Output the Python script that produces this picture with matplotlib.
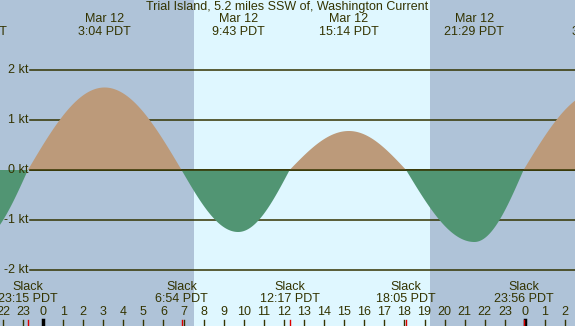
import numpy as np
import matplotlib.pyplot as plt

# hours relative to midnight Mar 12 (PDT)
event_hours = [-3.3, -0.75, 3.067, 6.9, 9.717, 12.283, 15.233, 18.083, 21.483, 23.933, 27.65]
event_knots = [-1.45, 0.0, 1.65, 0.0, -1.24, 0.0, 0.78, 0.0, -1.44, 0.0, 1.57]
max_labels = ["Mar 11\n20:42 PDT", "Mar 12\n3:04 PDT", "Mar 12\n9:43 PDT",
              "Mar 12\n15:14 PDT", "Mar 12\n21:29 PDT", "Mar 13\n3:39 PDT"]
slack_labels = ["Slack\n23:15 PDT", "Slack\n6:54 PDT", "Slack\n12:17 PDT",
                "Slack\n18:05 PDT", "Slack\n23:56 PDT"]
sunrise = 7.52
sunset = 19.27
y_ticks = [2, 1, 0, -1, -2]
hour_ticks = list(range(-2, 27))

title = "Trial Island, 5.2 miles SSW of, Washington Current"

night_col = "#afc3d8"
day_col = "#dff7ff"
flood_col = "#bc9a7a"
ebb_col = "#519573"
ink = "#333300"

W, H = 575, 326
px_per_hr = 20.08
x0_hr = -43 / px_per_hr
x1_hr = x0_hr + W / px_per_hr
y_top = 170 / 50
y_bot = -(H - 170) / 50


def current(t):
    out = np.zeros_like(t)
    for i in range(len(event_hours) - 1):
        t0, t1 = event_hours[i], event_hours[i + 1]
        v0, v1 = event_knots[i], event_knots[i + 1]
        m = (t >= t0) & (t <= t1)
        f = (t[m] - t0) / (t1 - t0)
        if v0 == 0:
            out[m] = v1 * np.sin(np.pi / 2 * f)
        else:
            out[m] = v0 * np.cos(np.pi / 2 * f)
    return out


plt.rcParams['font.family'] = ['Liberation Sans', 'DejaVu Sans']
fig = plt.figure(figsize=(W / 100, H / 100), dpi=100)
ax = fig.add_axes([0, 0, 1, 1])
ax.set_xlim(x0_hr, x1_hr)
ax.set_ylim(y_bot, y_top)
ax.axis('off')

# night / day background
ax.axvspan(x0_hr, sunrise, color=night_col, lw=0, zorder=0)
ax.axvspan(sunrise, sunset, color=day_col, lw=0, zorder=0)
ax.axvspan(sunset, x1_hr, color=night_col, lw=0, zorder=0)

# grid lines and knot labels
for k in y_ticks:
    ax.axhline(k, xmin=30 / W, xmax=1, color=ink, lw=1.1, zorder=1)
    ax.text(28 / W, k, f"{k} kt", transform=ax.get_yaxis_transform(),
            ha='right', va='center', fontsize=9, color=ink)

t = np.linspace(x0_hr, x1_hr, 2000)
v = current(t)
ax.fill_between(t, v, 0, where=v >= 0, interpolate=True, color=flood_col, lw=0, zorder=2)
ax.fill_between(t, v, 0, where=v <= 0, interpolate=True, color=ebb_col, lw=0, zorder=2)
ax.axhline(0, xmin=30 / W, xmax=1, color=ink, lw=1.1, zorder=3)

tx = ax.get_xaxis_transform()
ax.text(0.5, 1 - 7 / H, title, transform=ax.transAxes, ha='center', va='center',
        fontsize=9, color=ink)

max_hours = [h for h, k in zip(event_hours, event_knots) if k != 0]
slack_hours = [h for h, k in zip(event_hours, event_knots) if k == 0]
for h, lab in zip(max_hours, max_labels):
    ax.text(h, 1 - 25.5 / H, lab, transform=tx, ha='center', va='center',
            fontsize=9, color=ink, linespacing=1.05)
for h, lab in zip(slack_hours, slack_labels):
    ax.text(h, 1 - 293 / H, lab, transform=tx, ha='center', va='center',
            fontsize=9, color=ink, linespacing=1.05)

# hour ticks along the bottom
for h in hour_ticks:
    ax.text(h, 1 - 312 / H, str(h % 24), transform=tx, ha='center', va='center',
            fontsize=9, color=ink)
    if h % 24 == 0:
        ax.axvline(h, ymin=0, ymax=6 / H, color='black', lw=2.5, zorder=4)
    else:
        ax.axvline(h, ymin=0, ymax=6 / H, color=ink, lw=1, zorder=4)
for h in slack_hours:
    ax.axvline(h, ymin=0, ymax=6 / H, color='#dd0000', lw=1, zorder=5)

fig.savefig("out.png", dpi=100)
